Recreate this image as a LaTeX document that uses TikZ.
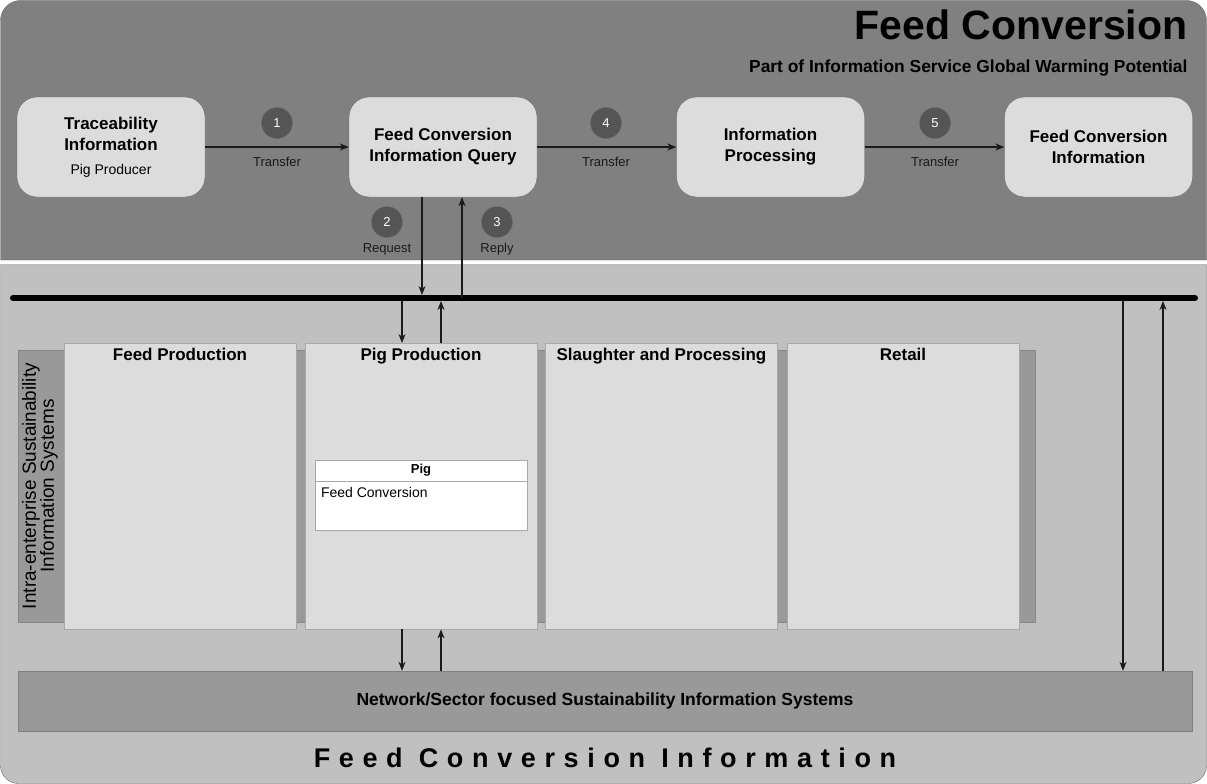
\documentclass[tikz,border=0pt]{standalone}
\usepackage{fontspec}
\setmainfont{Liberation Sans}
\newfontfamily\spacedfont[LetterSpace=32]{Liberation Sans}
\usetikzlibrary{arrows.meta}
\usetikzlibrary{positioning}

\definecolor{topgray}{HTML}{808080}
\definecolor{lowgray}{HTML}{C0C0C0}
\definecolor{boxgray}{HTML}{DCDCDC}
\definecolor{bandgray}{HTML}{999999}
\definecolor{stepgray}{HTML}{555555}
\definecolor{edgegray}{HTML}{6A6A6A}
\definecolor{paleedge}{HTML}{A8A8A8}
\definecolor{textgray}{HTML}{1A1A1A}

\begin{document}
\begin{tikzpicture}[x=1pt,y=-1pt,
    infobox/.style={rectangle,rounded corners=20pt,fill=boxgray,draw=edgegray,
        minimum width=188pt,minimum height=100pt,align=center,
        font=\bfseries\fontsize{17}{21}\selectfont},
    stepnum/.style={circle,fill=stepgray,draw=edgegray,minimum size=31pt,
        inner sep=0pt,text=white,font=\fontsize{13}{13}\selectfont},
    steplabel/.style={text=textgray,font=\fontsize{13}{13}\selectfont},
    stagebox/.style={rectangle,fill=boxgray,draw=paleedge,
        minimum width=232pt,minimum height=286pt,anchor=north},
    stagetitle/.style={anchor=north,font=\bfseries\fontsize{17}{17}\selectfont}]
\useasboundingbox (0,0) rectangle (1207,784);

% the two panels
\filldraw[fill=topgray,draw=edgegray] (0.5,260) [rounded corners=20pt] -- (0.5,0.5)
    -- (1206.5,0.5) [sharp corners] -- (1206.5,260) -- cycle;
\filldraw[fill=lowgray,draw=edgegray] (0.5,264.5) [rounded corners=18pt] -- (0.5,783.5)
    -- (1206.5,783.5) [sharp corners] -- (1206.5,264.5) -- cycle;

\node[anchor=base east,font=\bfseries\fontsize{41}{41}\selectfont] (title) at (1191,40) {Feed Conversion};
\node[anchor=base east,font=\bfseries\fontsize{17.4}{17.4}\selectfont] (subtitle) at (1191,72)
    {Part of Information Service Global Warming Potential};

% process boxes
\begin{scope}[every node/.style={infobox}]
    \node (trace) at (111,147) {Traceability\\Information\\[3pt]{\normalfont\fontsize{14}{14}\selectfont Pig Producer}};
    \node (query) at (443,147) {Feed Conversion\\Information Query};
    \node (proc) at (770.5,147) {Information\\Processing};
    \node (result) at (1098.5,147) {Feed Conversion\\Information};
\end{scope}

\begin{scope}[every node/.style={stepnum}]
    \node (s1) at (277,123) {1};
    \node (s4) at (606,123) {4};
    \node (s5) at (935,123) {5};
    \node (s2) at (387,222) {2};
    \node (s3) at (497,222) {3};
\end{scope}

\begin{scope}[every node/.style={steplabel}]
    \node (t1) at (277,162) {Transfer};
    \node (t4) at (606,162) {Transfer};
    \node (t5) at (935,162) {Transfer};
    \node (t2) at (387,249) {Request};
    \node (t3) at (497,249) {Reply};
\end{scope}

% information bus
\coordinate (busW) at (13,298);
\coordinate (busE) at (1195,298);
\draw[line width=6pt,line cap=round] (busW) -- (busE);

% intra-enterprise systems
\fill[bandgray] (18,350) rectangle (1035,622);
\draw[paleedge!80!black] (18,350) rectangle (1035,622);
\node[rotate=90,align=center,font=\fontsize{19}{18}\selectfont] (intra) at (40,486)
    {Intra-enterprise Sustainability\\Information Systems};

\begin{scope}[every node/.style={stagebox}]
    \node (feed) at (180,343) {};
    \node (pigprod) at (421,343) {};
    \node (slaughter) at (661.5,343) {};
    \node (retail) at (903,343) {};
\end{scope}
\node[stagetitle,below=2pt of feed.north] {Feed Production};
\node[stagetitle,below=2pt of pigprod.north] {Pig Production};
\node[stagetitle,below=2pt of slaughter.north] {Slaughter and Processing};
\node[stagetitle,below=2pt of retail.north] {Retail};

% pig record
\node[draw=paleedge,fill=white,minimum width=212pt,minimum height=21pt,
    font=\bfseries\fontsize{13}{13}\selectfont] (pighead) at (421,470.5) {Pig};
\node[draw=paleedge,fill=white,minimum width=212pt,minimum height=49pt,
    below=0pt of pighead] (pigbody) {};
\node[anchor=north west,font=\fontsize{14}{14}\selectfont,inner sep=0pt]
    at ([xshift=6pt,yshift=-6pt]pigbody.north west) {Feed Conversion};

% network systems
\node[draw=topgray,fill=bandgray,minimum width=1174pt,minimum height=60pt,
    font=\bfseries\fontsize{17.5}{17.5}\selectfont] (network) at (605,701)
    {Network/Sector focused Sustainability Information Systems};

\coordinate (rdown) at (1123,298);
\coordinate (rup) at (1163,298);

\node[font=\spacedfont\bfseries\fontsize{27}{27}\selectfont] (footer) at (605,758)
    {Feed Conversion Information};

% connectors
\begin{scope}[>={Stealth[length=9pt,width=7pt]},
              every edge/.style={draw=textgray,line width=1.1pt}]
    \path [->] (trace) edge (query);
    \path [->] (query) edge (proc);
    \path [->] (proc) edge (result);
    \path [->] ([xshift=-21pt]query.south) edge[shorten >=3pt] ([xshift=-21pt]query.south |- busW);
    \path [->] ([xshift=19pt]query.south |- busW) edge ([xshift=19pt]query.south);
    \path [->] ([xshift=-19pt]pigprod.north |- busW) edge[shorten <=3pt] ([xshift=-19pt]pigprod.north);
    \path [->] ([xshift=20pt]pigprod.north) edge[shorten >=3pt] ([xshift=20pt]pigprod.north |- busW);
    \path [->] ([xshift=-19pt]pigprod.south) edge ([xshift=-19pt]pigprod.south |- network.north);
    \path [->] ([xshift=20pt]pigprod.south |- network.north) edge ([xshift=20pt]pigprod.south);
    \path [->] (rdown) edge[shorten <=3pt] (rdown |- network.north);
    \path [->] (rup |- network.north) edge[shorten >=3pt] (rup);
\end{scope}
\end{tikzpicture}
\end{document}
